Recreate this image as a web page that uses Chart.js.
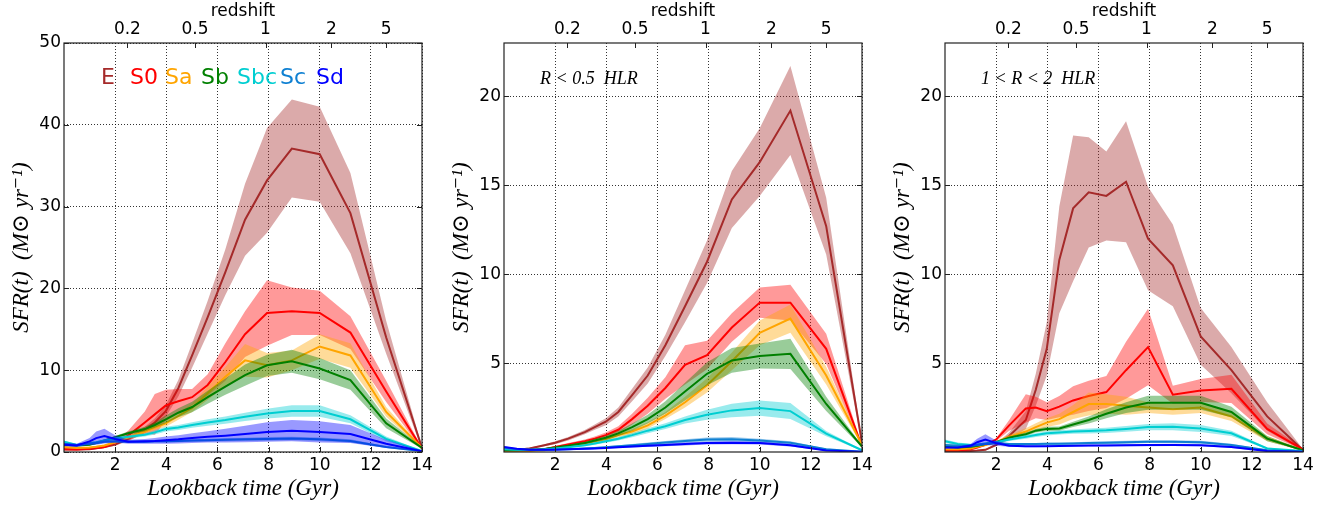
<!DOCTYPE html>
<html>
<head>
<meta charset="utf-8">
<title>Star formation history by Hubble type</title>
<script src="https://cdn.jsdelivr.net/npm/chart.js@4.4.1/dist/chart.umd.min.js"></script>
<style>
  body { margin: 0; background: #fff; }
  .stage { position: relative; width: 1336px; height: 506px; overflow: hidden; }
  .stage canvas { position: absolute; top: 0; }
</style>
</head>
<body>
<div class="stage">
  <canvas id="sfrAllChart" width="445" height="506" style="left:0px"></canvas>
  <canvas id="sfrInnerChart" width="445" height="506" style="left:440px"></canvas>
  <canvas id="sfrOuterChart" width="445" height="506" style="left:881px"></canvas>
</div>
<script>
// lookback time grid (Gyr)
const lookback = [0, 0.5, 1.0, 1.26, 1.58, 2.0, 2.51, 3.16, 3.55, 3.98, 4.47, 5.01, 5.62, 6.31, 7.08, 7.94, 8.91, 10.0, 11.2, 12.6, 14.0]

const hubbleTypes = ["E", "S0", "Sa", "Sb", "Sbc", "Sc", "Sd"]
const typeColors = ["#a52a2a", "#ff0000", "#ffa500", "#008000", "#00ced1", "#0f80d2", "#0000ff"]

const timeTicks = [2, 4, 6, 8, 10, 12, 14]
const redshiftLabels = ["0.2", "0.5", "1", "2", "5"]
const redshiftLookback = [2.48, 5.12, 7.88, 10.46, 12.6]
const sfrTicksAll = [0, 10, 20, 30, 40, 50]
const sfrTicksRadial = [5, 10, 15, 20]

// whole galaxy; rows follow hubbleTypes
const sfrAll = [
  [0.3, 0.3, 0.35, 0.45, 0.6, 0.9, 1.6, 2.7, 3.6, 5.0, 7.8, 11.8, 16.5, 22.0, 28.4, 33.2, 37.1, 36.4, 29.2, 14.0, 0.5],
  [0.35, 0.3, 0.4, 0.5, 0.6, 1.2, 2.0, 3.6, 4.6, 5.7, 6.2, 6.7, 8.2, 11.0, 14.4, 17.0, 17.2, 17.0, 14.6, 7.4, 0.4],
  [0.6, 0.5, 0.55, 0.65, 0.8, 1.2, 1.8, 2.5, 3.0, 3.5, 4.4, 5.4, 7.2, 9.2, 11.2, 10.6, 11.2, 12.9, 11.8, 4.9, 0.5],
  [0.9, 0.8, 0.9, 1.1, 1.4, 1.8, 2.3, 2.8, 3.3, 4.0, 4.8, 5.5, 6.7, 8.0, 9.4, 10.6, 11.1, 10.2, 8.8, 3.5, 0.5],
  [1.25, 0.85, 1.1, 1.2, 1.4, 1.65, 1.85, 2.1, 2.4, 2.8, 3.0, 3.3, 3.6, 3.9, 4.3, 4.7, 5.0, 5.0, 4.0, 1.6, 0.1],
  [1.0, 0.85, 1.0, 1.1, 1.25, 1.3, 1.25, 1.25, 1.3, 1.3, 1.35, 1.4, 1.45, 1.5, 1.55, 1.6, 1.65, 1.55, 1.35, 0.6, 0.1],
  [0.9, 0.8, 1.3, 1.7, 1.95, 1.6, 1.25, 1.3, 1.35, 1.45, 1.55, 1.7, 1.85, 2.0, 2.2, 2.45, 2.6, 2.45, 2.2, 1.0, 0.1]
]
const errAll = [
  [0.05, 0.05, 0.05, 0.08, 0.1, 0.15, 0.25, 0.4, 0.5, 0.7, 1.0, 1.5, 2.0, 2.8, 4.4, 6.4, 6.0, 5.8, 4.9, 2.0, 0.15],
  [0.1, 0.1, 0.1, 0.15, 0.15, 0.25, 0.6, 1.35, 2.5, 1.9, 1.5, 1.0, 1.3, 2.3, 2.8, 4.0, 2.9, 2.7, 2.0, 1.3, 0.1],
  [0.1, 0.1, 0.1, 0.1, 0.12, 0.15, 0.2, 0.3, 0.35, 0.4, 0.45, 0.5, 0.8, 1.2, 2.0, 1.5, 1.2, 1.5, 1.5, 0.6, 0.1],
  [0.1, 0.1, 0.1, 0.1, 0.1, 0.15, 0.2, 0.3, 0.35, 0.45, 0.55, 0.65, 0.8, 1.0, 1.3, 1.3, 1.4, 1.3, 1.2, 0.6, 0.1],
  [0.15, 0.12, 0.12, 0.12, 0.15, 0.15, 0.2, 0.2, 0.25, 0.3, 0.3, 0.35, 0.4, 0.45, 0.5, 0.6, 0.7, 0.7, 0.5, 0.3, 0.05],
  [0.12, 0.12, 0.12, 0.15, 0.15, 0.15, 0.15, 0.15, 0.15, 0.15, 0.15, 0.15, 0.18, 0.2, 0.2, 0.22, 0.22, 0.22, 0.2, 0.1, 0.05],
  [0.2, 0.2, 0.4, 0.8, 0.9, 0.45, 0.25, 0.3, 0.35, 0.45, 0.5, 0.6, 0.7, 0.85, 1.0, 1.2, 1.3, 1.3, 1.1, 0.5, 0.05]
]

// R < 0.5 HLR
const sfrInner = [
  [0.15, 0.12, 0.2, 0.28, 0.38, 0.52, 0.75, 1.12, 1.4, 1.7, 2.25, 3.2, 4.3, 6.0, 8.2, 10.7, 14.2, 16.3, 19.2, 12.7, 0.5],
  [0.1, 0.08, 0.1, 0.12, 0.16, 0.28, 0.42, 0.6, 0.75, 0.95, 1.25, 1.85, 2.6, 3.6, 4.9, 5.45, 7.0, 8.4, 8.4, 5.8, 0.3],
  [0.05, 0.05, 0.06, 0.08, 0.1, 0.2, 0.3, 0.48, 0.6, 0.72, 0.95, 1.15, 1.5, 2.05, 2.8, 3.75, 5.1, 6.7, 7.5, 4.3, 0.4],
  [0.1, 0.1, 0.12, 0.14, 0.17, 0.25, 0.35, 0.5, 0.65, 0.8, 1.05, 1.4, 1.85, 2.5, 3.4, 4.4, 5.15, 5.4, 5.52, 2.7, 0.3],
  [0.15, 0.12, 0.12, 0.13, 0.15, 0.2, 0.27, 0.38, 0.48, 0.6, 0.75, 0.95, 1.2, 1.45, 1.8, 2.1, 2.34, 2.47, 2.3, 1.03, 0.1],
  [0.22, 0.15, 0.12, 0.12, 0.13, 0.14, 0.16, 0.2, 0.23, 0.27, 0.32, 0.38, 0.45, 0.53, 0.62, 0.7, 0.72, 0.65, 0.52, 0.15, 0.02],
  [0.28, 0.18, 0.12, 0.12, 0.12, 0.13, 0.15, 0.18, 0.2, 0.23, 0.27, 0.31, 0.35, 0.4, 0.45, 0.5, 0.52, 0.5, 0.38, 0.08, 0.02]
]
const errInner = [
  [0.05, 0.05, 0.05, 0.05, 0.06, 0.08, 0.1, 0.12, 0.15, 0.2, 0.25, 0.35, 0.45, 0.6, 0.9, 1.2, 1.6, 1.9, 2.5, 1.6, 0.1],
  [0.04, 0.04, 0.04, 0.04, 0.05, 0.06, 0.08, 0.1, 0.12, 0.15, 0.2, 0.3, 0.45, 0.6, 1.1, 0.8, 0.8, 0.85, 1.0, 0.85, 0.05],
  [0.03, 0.03, 0.03, 0.03, 0.04, 0.05, 0.06, 0.08, 0.1, 0.1, 0.12, 0.15, 0.18, 0.2, 0.3, 0.4, 0.5, 0.7, 0.8, 0.5, 0.05],
  [0.03, 0.03, 0.03, 0.03, 0.04, 0.05, 0.06, 0.08, 0.1, 0.12, 0.15, 0.2, 0.25, 0.35, 0.5, 0.65, 0.7, 0.7, 0.85, 0.4, 0.05],
  [0.03, 0.03, 0.03, 0.03, 0.03, 0.04, 0.05, 0.06, 0.07, 0.08, 0.1, 0.12, 0.14, 0.16, 0.2, 0.28, 0.38, 0.43, 0.45, 0.15, 0.03],
  [0.03, 0.03, 0.03, 0.03, 0.03, 0.03, 0.04, 0.04, 0.05, 0.05, 0.06, 0.07, 0.08, 0.09, 0.1, 0.12, 0.12, 0.1, 0.08, 0.04, 0.01],
  [0.04, 0.03, 0.03, 0.03, 0.03, 0.03, 0.03, 0.04, 0.04, 0.04, 0.05, 0.05, 0.06, 0.07, 0.08, 0.08, 0.08, 0.08, 0.07, 0.03, 0.01]
]

// 1 < R < 2 HLR
const sfrOuter = [
  [0.05, 0.05, 0.06, 0.08, 0.12, 0.4, 0.9, 1.8, 3.5, 5.8, 10.8, 13.7, 14.6, 14.4, 15.2, 12.0, 10.5, 6.5, 4.6, 2.0, 0.1],
  [0.1, 0.1, 0.15, 0.25, 0.4, 0.7, 1.5, 2.45, 2.5, 2.3, 2.55, 2.9, 3.15, 3.37, 4.6, 5.9, 3.22, 3.46, 3.55, 1.3, 0.15],
  [0.15, 0.15, 0.2, 0.3, 0.4, 0.55, 0.85, 1.15, 1.4, 1.65, 1.85, 2.25, 2.7, 2.7, 2.6, 2.5, 2.4, 2.5, 2.0, 0.75, 0.1],
  [0.3, 0.25, 0.3, 0.35, 0.45, 0.55, 0.8, 1.0, 1.2, 1.3, 1.32, 1.55, 1.8, 2.15, 2.5, 2.77, 2.77, 2.77, 2.25, 0.75, 0.1],
  [0.6, 0.45, 0.4, 0.42, 0.48, 0.55, 0.7, 0.85, 0.95, 1.05, 1.1, 1.15, 1.18, 1.22, 1.3, 1.4, 1.42, 1.32, 1.05, 0.2, 0.05],
  [0.4, 0.35, 0.35, 0.4, 0.45, 0.5, 0.45, 0.45, 0.45, 0.46, 0.47, 0.48, 0.5, 0.52, 0.55, 0.58, 0.58, 0.55, 0.4, 0.1, 0.02],
  [0.25, 0.25, 0.35, 0.55, 0.7, 0.5, 0.35, 0.32, 0.32, 0.33, 0.34, 0.35, 0.36, 0.37, 0.38, 0.39, 0.4, 0.38, 0.28, 0.05, 0.02]
]
const errOuter = [
  [0.02, 0.02, 0.02, 0.02, 0.03, 0.08, 0.2, 0.5, 0.9, 1.5, 3.0, 4.1, 3.1, 2.5, 3.4, 2.9, 2.3, 1.6, 1.3, 0.8, 0.05],
  [0.03, 0.03, 0.03, 0.04, 0.05, 0.08, 0.3, 0.8, 0.6, 0.5, 0.6, 0.8, 0.85, 0.9, 1.6, 2.15, 0.5, 0.65, 0.8, 0.3, 0.05],
  [0.05, 0.05, 0.05, 0.06, 0.07, 0.08, 0.12, 0.18, 0.22, 0.25, 0.3, 0.4, 0.65, 0.55, 0.5, 0.3, 0.3, 0.3, 0.25, 0.15, 0.03],
  [0.04, 0.04, 0.04, 0.05, 0.05, 0.06, 0.07, 0.1, 0.1, 0.12, 0.12, 0.15, 0.2, 0.25, 0.3, 0.4, 0.4, 0.4, 0.3, 0.15, 0.03],
  [0.1, 0.08, 0.06, 0.06, 0.06, 0.06, 0.08, 0.1, 0.1, 0.12, 0.12, 0.12, 0.14, 0.15, 0.16, 0.18, 0.2, 0.2, 0.15, 0.05, 0.02],
  [0.06, 0.06, 0.06, 0.06, 0.06, 0.06, 0.06, 0.06, 0.06, 0.06, 0.07, 0.07, 0.07, 0.08, 0.08, 0.08, 0.08, 0.08, 0.07, 0.03, 0.01],
  [0.05, 0.05, 0.1, 0.2, 0.3, 0.15, 0.06, 0.05, 0.05, 0.05, 0.05, 0.05, 0.05, 0.05, 0.05, 0.06, 0.06, 0.06, 0.05, 0.02, 0.01]
]

const sansFont = "'DejaVu Sans', sans-serif"
const mathFont = "'Liberation Serif', 'DejaVu Serif', serif"
const gridColor = "rgba(0, 0, 0, 0.8)"

function withAlpha(hex, alpha) {
  const r = parseInt(hex.slice(1, 3), 16)
  const g = parseInt(hex.slice(3, 5), 16)
  const b = parseInt(hex.slice(5, 7), 16)
  return `rgba(${r}, ${g}, ${b}, ${alpha})`
}

// band (mean +/- err) then the mean line, one type after the other
function buildDatasets(sfr, err) {
  const sets = []

  hubbleTypes.forEach((type, k) => {
    const color = typeColors[k]

    sets.push({
      label: `${type} upper`,
      data: lookback.map((t, i) => ({ x: t, y: sfr[k][i] + err[k][i] })),
      borderColor: "transparent",
      borderWidth: 0,
      pointRadius: 0,
      fill: false
    })

    sets.push({
      label: `${type} lower`,
      data: lookback.map((t, i) => ({ x: t, y: Math.max(sfr[k][i] - err[k][i], 0) })),
      borderColor: "transparent",
      borderWidth: 0,
      pointRadius: 0,
      backgroundColor: withAlpha(color, 0.4),
      fill: "-1"
    })

    sets.push({
      label: type,
      data: lookback.map((t, i) => ({ x: t, y: sfr[k][i] })),
      borderColor: color,
      borderWidth: 2,
      pointRadius: 0,
      fill: false
    })
  })

  // later datasets go on top
  sets.forEach((set, i) => {
    set.order = sets.length - i
  })

  return sets
}

const legendOffsets = [37, 66, 101, 137, 173, 216, 252]

// type labels, panel note, frame and inward tick marks
const panelDecor = {
  id: "panelDecor",
  afterDatasetsDraw(chart, args, opts) {
    const { ctx, chartArea, scales } = chart
    const { left, right, top, bottom } = chartArea
    const baseline = top + 41

    ctx.save()

    if (opts.showTypes) {
      ctx.font = `22px ${sansFont}`
      ctx.textBaseline = "alphabetic"
      ctx.textAlign = "left"
      hubbleTypes.forEach((type, i) => {
        ctx.fillStyle = typeColors[i]
        ctx.fillText(type, left + legendOffsets[i], baseline)
      })
    }

    if (opts.note) {
      ctx.font = `italic 18px ${mathFont}`
      ctx.fillStyle = "#000"
      ctx.textBaseline = "alphabetic"
      ctx.textAlign = "left"
      ctx.fillText(opts.note, left + 36, baseline)
    }

    ctx.strokeStyle = "#222"
    ctx.lineWidth = 1
    ctx.beginPath()
    scales.x.ticks.forEach(tick => {
      const px = Math.round(scales.x.getPixelForValue(tick.value)) + 0.5
      ctx.moveTo(px, bottom)
      ctx.lineTo(px, bottom - 5)
    })
    scales.xTop.ticks.forEach(tick => {
      const px = Math.round(scales.xTop.getPixelForValue(tick.value)) + 0.5
      ctx.moveTo(px, top)
      ctx.lineTo(px, top + 5)
    })
    scales.y.ticks.forEach(tick => {
      const py = Math.round(scales.y.getPixelForValue(tick.value)) + 0.5
      ctx.moveTo(left, py)
      ctx.lineTo(left + 5, py)
      ctx.moveTo(right, py)
      ctx.lineTo(right - 5, py)
    })
    ctx.stroke()

    ctx.lineWidth = 1.2
    ctx.strokeRect(left, top, right - left, bottom - top)

    ctx.restore()
  }
}

function makePanel(canvasId, sfr, err, yMax, yTicks, opts) {
  const tickFont = { family: sansFont, size: 17 }
  const titleFont = { family: mathFont, size: 23, style: "italic" }

  return new Chart(document.getElementById(canvasId), {
    type: "line",
    data: { datasets: buildDatasets(sfr, err) },
    plugins: [panelDecor],
    options: {
      responsive: false,
      animation: false,
      events: [],
      layout: { padding: { left: 0, top: 0, bottom: 0, right: 23 } },
      plugins: {
        legend: { display: false },
        tooltip: { enabled: false },
        panelDecor: opts
      },
      scales: {
        x: {
          type: "linear",
          position: "bottom",
          min: 0,
          max: 14,
          afterBuildTicks: scale => {
            scale.ticks = timeTicks.map(value => ({ value }))
          },
          afterFit: scale => {
            scale.height = 54
          },
          ticks: {
            font: tickFont,
            color: "#000",
            padding: 3,
            maxRotation: 0,
            autoSkip: false
          },
          grid: { color: gridColor, lineWidth: 1, drawTicks: false },
          border: { display: false, dash: [1, 2] },
          title: {
            display: true,
            text: "Lookback time (Gyr)",
            font: titleFont,
            color: "#000",
            padding: { top: 0, bottom: 3 }
          }
        },
        xTop: {
          type: "linear",
          position: "top",
          min: 0,
          max: 14,
          afterBuildTicks: scale => {
            scale.ticks = redshiftLookback.map(value => ({ value }))
          },
          afterFit: scale => {
            scale.height = 43
          },
          ticks: {
            font: tickFont,
            color: "#000",
            padding: 3,
            maxRotation: 0,
            autoSkip: false,
            callback: (value, index) => redshiftLabels[index]
          },
          grid: { display: false, drawTicks: false },
          border: { display: false },
          title: {
            display: true,
            text: "redshift",
            font: tickFont,
            color: "#000",
            padding: { top: 1, bottom: 0 }
          }
        },
        y: {
          type: "linear",
          position: "left",
          min: 0,
          max: yMax,
          afterBuildTicks: scale => {
            scale.ticks = yTicks.map(value => ({ value }))
          },
          afterFit: scale => {
            scale.width = 64
          },
          ticks: {
            font: tickFont,
            color: "#000",
            padding: 3
          },
          grid: { color: gridColor, lineWidth: 1, drawTicks: false },
          border: { display: false, dash: [1, 2] },
          title: {
            display: true,
            text: "SFR(t)  (M⊙ yr⁻¹)",
            font: titleFont,
            color: "#000",
            padding: { top: 8, bottom: 0 }
          }
        }
      }
    }
  })
}

document.addEventListener("DOMContentLoaded", () => {
  makePanel("sfrAllChart", sfrAll, errAll, 50, sfrTicksAll, { showTypes: true })
  makePanel("sfrInnerChart", sfrInner, errInner, 23, sfrTicksRadial, { note: "R < 0.5  HLR" })
  makePanel("sfrOuterChart", sfrOuter, errOuter, 23, sfrTicksRadial, { note: "1 < R < 2  HLR" })
})
</script>
</body>
</html>
